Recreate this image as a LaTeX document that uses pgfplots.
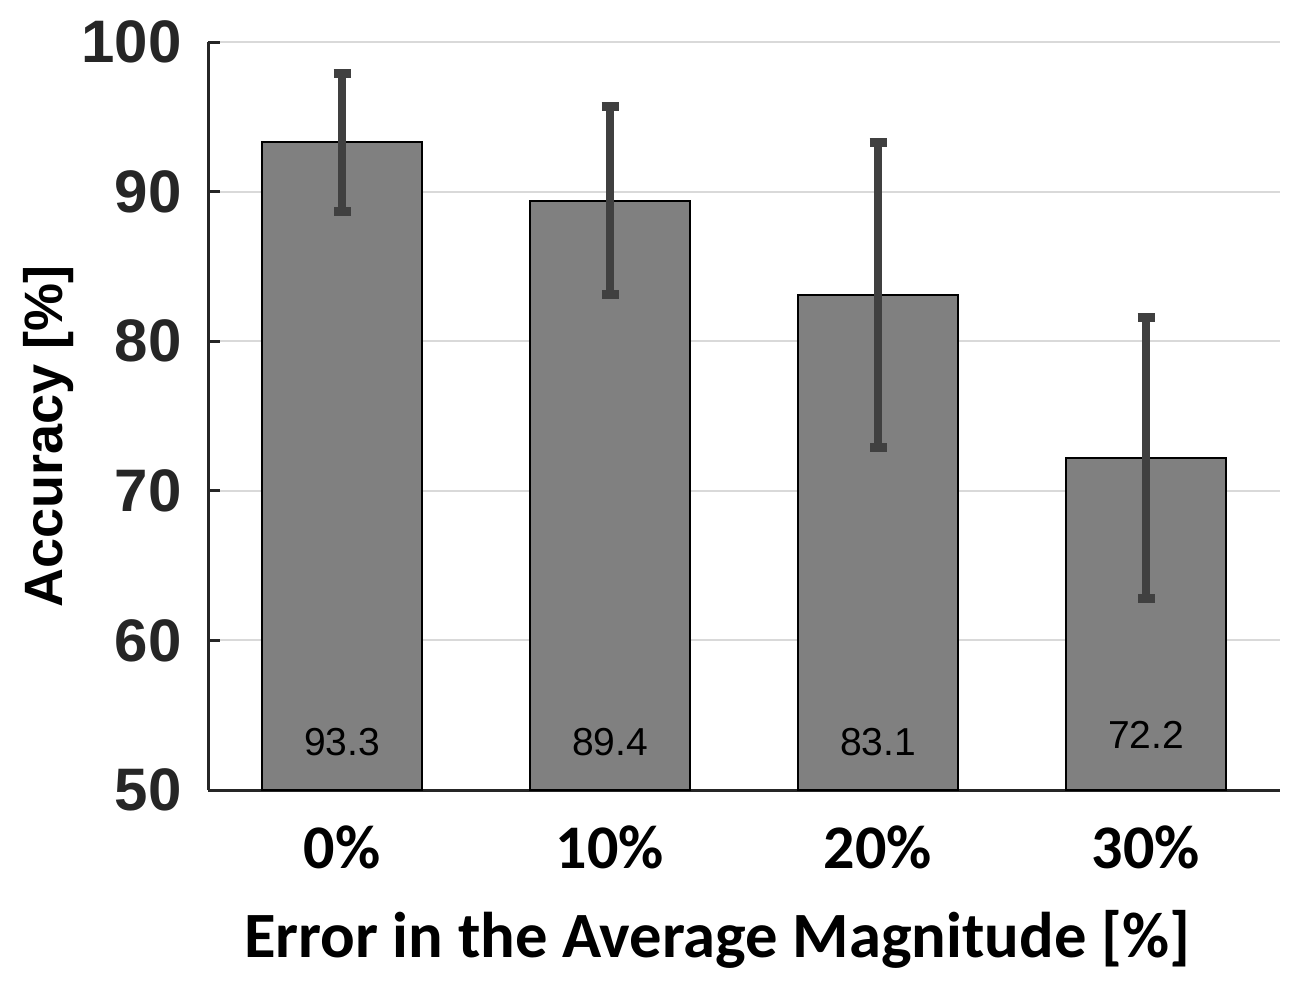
\documentclass[border=0pt]{standalone}
\usepackage{pgfplots}
\pgfplotsset{compat=1.18}
\usepackage{fontspec}
\setmainfont{Liberation Sans}
\newfontfamily\calibri{Carlito}
\definecolor{barfill}{HTML}{808080}
\definecolor{errc}{HTML}{404040}
\definecolor{axc}{HTML}{262626}
\definecolor{gridc}{HTML}{D9D9D9}
\pgfplotsset{
  layers/mylayers/.define layer set={axis background,axis grid,main,axis ticks,axis lines,axis tick labels,axis descriptions,axis foreground}{},
}
\begin{document}
\begin{tikzpicture}
\begin{axis}[
  set layers=mylayers,
  at={(104pt,97.5pt)}, anchor=south west,
  scale only axis, width=536pt, height=374pt,
  xmin=-0.5, xmax=3.5, ymin=50, ymax=100,
  axis x line*=bottom, axis y line*=left,
  axis line style={axc, line width=1.5pt},
  xtick={0,1,2,3}, xticklabels={0\%,10\%,20\%,30\%},
  x tick style={draw=none},
  ytick={50,60,70,80,90,100},
  y tick style={axc, line width=1.5pt},
  tick align=inside, major tick length=6pt,
  ymajorgrids, y grid style={gridc, line width=1pt},
  /pgf/number format/assume math mode=true,
  yticklabel style={font=\bfseries\fontsize{30}{36}\selectfont, text=axc, inner sep=0pt, anchor=east, xshift=-13pt},
  xticklabel style={font=\calibri\bfseries\fontsize{31}{36}\selectfont, text=black, anchor=base, yshift=-39pt},
  xlabel={Error in the Average Magnitude [\%]},
  xlabel style={font=\calibri\bfseries\fontsize{32.3}{38}\selectfont, at={(axis description cs:0.475,-0.2246)}, anchor=base},
  ylabel={Accuracy [\%]},
  ylabel style={font=\bfseries\fontsize{27}{32}\selectfont, at={(axis description cs:-0.149,0.473)}, anchor=center},
]
\addplot[ybar, bar width=0.6, fill=barfill, draw=black, line width=1pt,
  error bars/.cd, y dir=both, y explicit,
  error bar style={errc, line width=4.3pt},
  error mark options={errc, line width=4.5pt, mark size=4.25pt, rotate=90}]
  coordinates {(0,93.3) +- (0,4.6) (1,89.4) +- (0,6.3) (2,83.1) +- (0,10.2) (3,72.2) +- (0,9.4)};
\addplot[draw=none, mark=none, nodes near coords, point meta=explicit symbolic,
  nodes near coords style={anchor=center, font=\fontsize{19.5}{22}\selectfont, text=black}]
  coordinates {(0,53.2) [93.3] (1,53.2) [89.4] (2,53.2) [83.1] (3,53.7) [72.2]};
\end{axis}
\pgfresetboundingbox
\path (0,0) rectangle (652pt,492.5pt);
\end{tikzpicture}
\end{document}
